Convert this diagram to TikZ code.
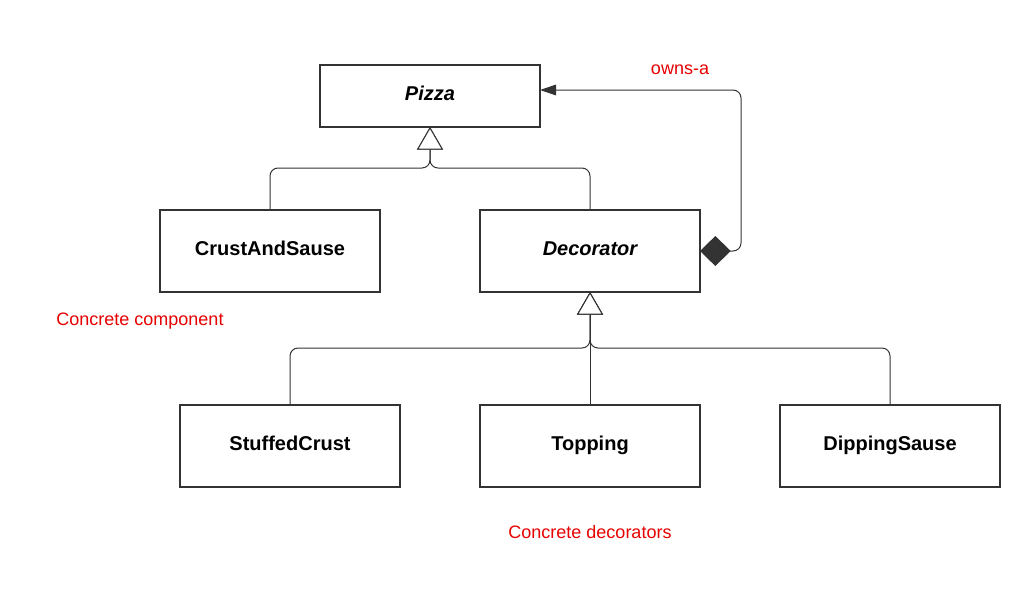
\documentclass[tikz,border=0pt]{standalone}
\usepackage{fontspec}
\setmainfont{Liberation Sans}
\usetikzlibrary{arrows.meta}
\definecolor{umlgray}{HTML}{333333}
\definecolor{notered}{RGB}{230,0,0}

\begin{document}
\begin{tikzpicture}[x=0.75pt, y=-0.75pt,
  cls/.style={draw=umlgray, line width=1.5pt, minimum width=165pt, minimum height=61.5pt,
    inner sep=0pt, outer sep=0pt, text height=11pt, text depth=4.5pt,
    font=\fontsize{15}{18}\selectfont\bfseries},
  note/.style={text=notered, font=\fontsize{13.5}{16}\selectfont},
  inherit/.style={draw=umlgray, line width=0.75pt, rounded corners=6pt,
    -{Triangle[open, length=17pt, width=19.5pt, fill=white]}},
  owns/.style={draw=umlgray, line width=0.75pt, rounded corners=6pt,
    {Diamond[length=23pt, width=22.5pt, fill=umlgray]}-{Triangle[length=12pt, width=8pt, fill=umlgray]}}]
\useasboundingbox (0,0) rectangle (1034,603);

\node (Pizza) at (430,96) [cls, minimum height=46.5pt] {\itshape Pizza};
\node (Crust) at (270,251) [cls] {CrustAndSause};
\node (Deco) at (590,251) [cls] {\itshape Decorator};
\node (Stuffed) at (290,446) [cls] {StuffedCrust};
\node (Topping) at (590,446) [cls] {Topping};
\node (Dipping) at (890,446) [cls] {DippingSause};

\coordinate (J1) at (430,168); \coordinate (J2) at (590,348);
\coordinate (PA) at (540,90); \coordinate (OR) at (741,251);

\draw [inherit] (Crust.north) |- (J1) -- (Pizza.south);
\draw [inherit] (Deco.north) |- (J1) -- (Pizza.south);

\draw [inherit] (Stuffed.north) |- (J2) -- (Deco.south);
\draw [inherit] (Dipping.north) |- (J2) -- (Deco.south);
\draw [inherit] (Topping.north) -- (Deco.south);

\draw [owns] (Deco.east) -- (OR) |- (PA);

\node (Owns) at (680,70) [note] {owns-a};
\node (CComp) at (140,321) [note] {Concrete component};
\node (CDeco) at (590,532) [note] {Concrete decorators};

\end{tikzpicture}
\end{document}
